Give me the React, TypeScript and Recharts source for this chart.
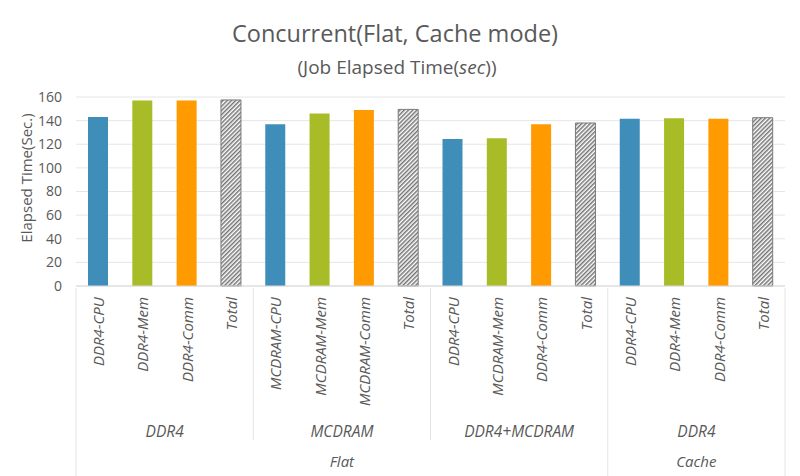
import React from 'react';
import { BarChart, Bar, XAxis, YAxis, CartesianGrid, Cell, Label } from 'recharts';

// leaf categories, left to right
const categories = [
  'DDR4-CPU', 'DDR4-Mem', 'DDR4-Comm', 'Total',
  'MCDRAM-CPU', 'MCDRAM-Mem', 'MCDRAM-Comm', 'Total',
  'DDR4-CPU', 'MCDRAM-Mem', 'DDR4-Comm', 'Total',
  'DDR4-CPU', 'DDR4-Mem', 'DDR4-Comm', 'Total',
];
const memGroups = ['DDR4', 'MCDRAM', 'DDR4+MCDRAM', 'DDR4'];
const modes = ['Flat', 'Cache'];
const modeSizes = [3, 1]; // number of memory groups under each mode
const elapsed = [
  143, 157, 157, 157.5,
  137, 146, 149, 149.5,
  124.5, 125, 137, 138,
  141.5, 142, 141.5, 142.5,
];
const yTicks = [0, 20, 40, 60, 80, 100, 120, 140, 160];

const barColors = ['#3F8EBA', '#A8BC28', '#FF9A00', 'url(#hatch)'];

const W = 800;
const H = 476;
const LEFT = 76;
const RIGHT = 15;
const TOP = 97;
const X_AXIS_H = 190;
const band = (W - LEFT - RIGHT) / categories.length;
const font = '"Open Sans", sans-serif';
const textColor = '#595959';
const sepColor = '#E3E3E3';

const data = categories.map((name, i) => ({ name, value: elapsed[i], idx: i }));

const MultiTick = (props: any) => {
  const { x, y, payload } = props;
  const i: number = payload.index;
  const nodes: React.ReactNode[] = [];
  const top = y - 6;
  nodes.push(
    <text key="l" x={x} y={top + 9} transform={`rotate(-90, ${x}, ${top + 9})`}
      textAnchor="end" dominantBaseline="central" fontSize={15} fontStyle="italic"
      fill={textColor} fontFamily={font}>{payload.value}</text>
  );
  const left = x - band / 2;
  if (i % 4 === 0) {
    const g = i / 4;
    nodes.push(
      <text key="g" x={left + band * 2} y={top + 143} textAnchor="middle" dominantBaseline="central"
        fontSize={15.5} fontStyle="italic" fill={textColor} fontFamily={font}>{memGroups[g]}</text>
    );
    let acc = 0;
    let isModeStart = false;
    modeSizes.forEach((s, m) => {
      if (acc === g) {
        isModeStart = true;
        nodes.push(
          <text key="m" x={left + band * 2 * s} y={top + 173} textAnchor="middle" dominantBaseline="central"
            fontSize={15} fontStyle="italic" fill={textColor} fontFamily={font}>{modes[m]}</text>
        );
      }
      acc += s;
    });
    nodes.push(
      <line key="s" x1={left} x2={left} y1={top} y2={isModeStart ? H : top + 152} stroke={sepColor} />
    );
  }
  if (i === categories.length - 1) {
    nodes.push(<line key="e" x1={x + band / 2} x2={x + band / 2} y1={top} y2={H} stroke={sepColor} />);
  }
  return <g>{nodes}</g>;
};

const YTitle = () => {
  const cx = 26;
  const cy = 178;
  return (
    <text x={cx} y={cy} transform={`rotate(-90, ${cx}, ${cy})`} textAnchor="middle"
      dominantBaseline="central" fontSize={15} fill={textColor} fontFamily={font}>
      Elapsed Time(Sec.)
    </text>
  );
};

export default function App() {
  return (
    <div style={{ position: 'relative', width: W, height: H, background: '#fff', fontFamily: font }}>
      <style>{'body{margin:0}'}</style>
      <div style={{ position: 'absolute', top: 17, left: 0, width: 790, textAlign: 'center', fontSize: 23.5, color: textColor, lineHeight: '32px', whiteSpace: 'nowrap' }}>
        Concurrent(Flat, Cache mode)
      </div>
      <div style={{ position: 'absolute', top: 55, left: 0, width: 794, textAlign: 'center', fontSize: 19, color: textColor, lineHeight: '24px', whiteSpace: 'nowrap' }}>
        (Job Elapsed Time(<i>sec</i>))
      </div>
      <BarChart width={W} height={H} data={data} margin={{ top: TOP, right: RIGHT, left: 0, bottom: 0 }}
        barSize={20} style={{ position: 'absolute', top: 0, left: 0 }}>
        <defs>
          <pattern id="hatch" width="3" height="3" patternUnits="userSpaceOnUse" patternTransform="rotate(45)">
            <rect width="3" height="3" fill="#fff" />
            <line x1="0.75" y1="0" x2="0.75" y2="3" stroke="#737373" strokeWidth="1.5" />
          </pattern>
        </defs>
        <CartesianGrid vertical={false} stroke="#E6E6E6" />
        <XAxis dataKey="name" interval={0} height={X_AXIS_H} tickLine={false}
          axisLine={{ stroke: '#D9D9D9' }} tick={<MultiTick />} />
        <YAxis width={LEFT} domain={[0, 160]} ticks={yTicks} axisLine={false} tickLine={false}
          tickMargin={8} tick={{ fontSize: 14, fill: textColor, fontFamily: font }}>
          <Label content={<YTitle />} />
        </YAxis>
        <Bar dataKey="value" isAnimationActive={false}>
          {data.map((d) => (
            <Cell key={d.idx} fill={barColors[d.idx % 4]}
              stroke={d.idx % 4 === 3 ? '#7A7A7A' : undefined} strokeWidth={d.idx % 4 === 3 ? 1 : 0} />
          ))}
        </Bar>
      </BarChart>
    </div>
  );
}
